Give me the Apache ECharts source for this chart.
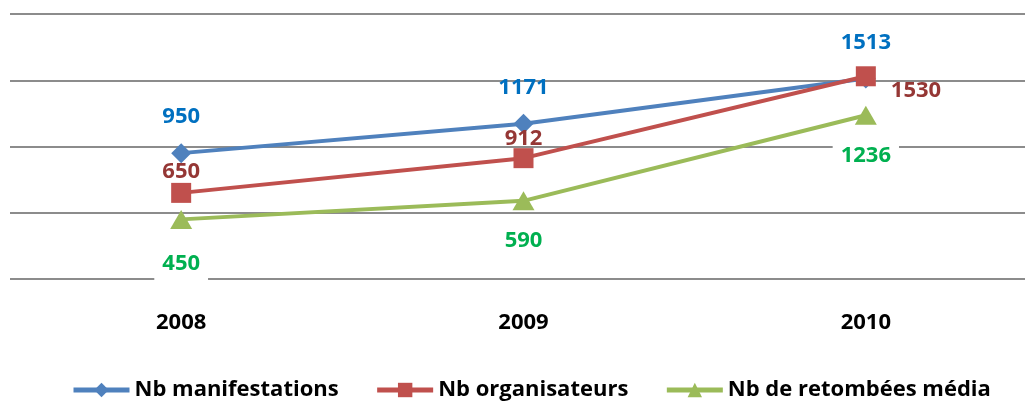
<!DOCTYPE html>
<html>
<head>
<meta charset="utf-8">
<script src="https://cdn.jsdelivr.net/npm/echarts@6/dist/echarts.min.js"></script>
<style>
  html, body { margin: 0; padding: 0; background: #fff; }
  #chart { width: 1025px; height: 403px; }
</style>
</head>
<body>
<div id="chart"></div>
<script>
// données
var years = ['2008', '2009', '2010'];
var manifestations = [950, 1171, 1513];
var organisateurs = [650, 912, 1530];
var retombees = [450, 590, 1236];
var seriesNames = ['Nb manifestations', 'Nb organisateurs', 'Nb de retombées média'];

var font = 'Open Sans';

var chart = echarts.init(document.getElementById('chart'));

// libellés des organisateurs : le dernier est à droite
var orgData = organisateurs.map(function (v, i) {
  if (i === 2) {
    return { value: v, label: { position: 'right', offset: [15, 14] } };
  }
  if (i === 1) {
    return { value: v, label: { offset: [0, 2] } };
  }
  return v;
});
// distances des libellés verts
var greenDist = [18, 13, 14];
var greenData = retombees.map(function (v, i) {
  return { value: v, label: { distance: greenDist[i] } };
});

var option = {
  animation: false,
  grid: { left: 10, width: 1027, top: 14, bottom: 124, outerBoundsMode: 'none', containLabel: false },
  legend: {
    left: 66,
    top: 374,
    itemWidth: 56,
    itemHeight: 18,
    itemGap: 36,
    lineStyle: { width: 5 },
    textStyle: { fontFamily: font, fontWeight: 'bold', fontSize: 22, color: '#000' },
    data: seriesNames
  },
  xAxis: {
    type: 'category',
    data: years,
    axisLine: { show: false },
    axisTick: { show: false },
    axisLabel: { margin: 33, fontFamily: font, fontWeight: 'bold', fontSize: 22, color: '#000' }
  },
  yAxis: {
    type: 'value',
    min: 0,
    max: 2000,
    interval: 500,
    axisLabel: { show: false },
    axisLine: { show: false },
    axisTick: { show: false },
    splitLine: { lineStyle: { color: '#8c8c8c', width: 2 } }
  },
  series: [
    {
      name: seriesNames[0],
      type: 'line',
      data: manifestations,
      symbol: 'diamond',
      symbolSize: 20,
      lineStyle: { color: '#4f81bd', width: 4 },
      itemStyle: { color: '#4f81bd' },
      label: {
        show: true, position: 'top', distance: 15,
        fontFamily: font, fontWeight: 'bold', fontSize: 22, color: '#0070c0'
      }
    },
    {
      name: seriesNames[1],
      type: 'line',
      data: orgData,
      symbol: 'rect',
      symbolSize: 20,
      lineStyle: { color: '#c0504d', width: 4 },
      itemStyle: { color: '#c0504d' },
      label: {
        show: true, position: 'top', distance: 0,
        fontFamily: font, fontWeight: 'bold', fontSize: 22, color: '#953735'
      }
    },
    {
      name: seriesNames[2],
      type: 'line',
      data: greenData,
      symbol: 'triangle',
      symbolSize: [22, 19],
      lineStyle: { color: '#9bbb59', width: 4 },
      itemStyle: { color: '#9bbb59' },
      label: {
        show: true, position: 'bottom',
        backgroundColor: '#fff', padding: [6, 8],
        fontFamily: font, fontWeight: 'bold', fontSize: 22, color: '#00b050'
      }
    }
  ]
};

chart.setOption(option);
</script>
</body>
</html>
